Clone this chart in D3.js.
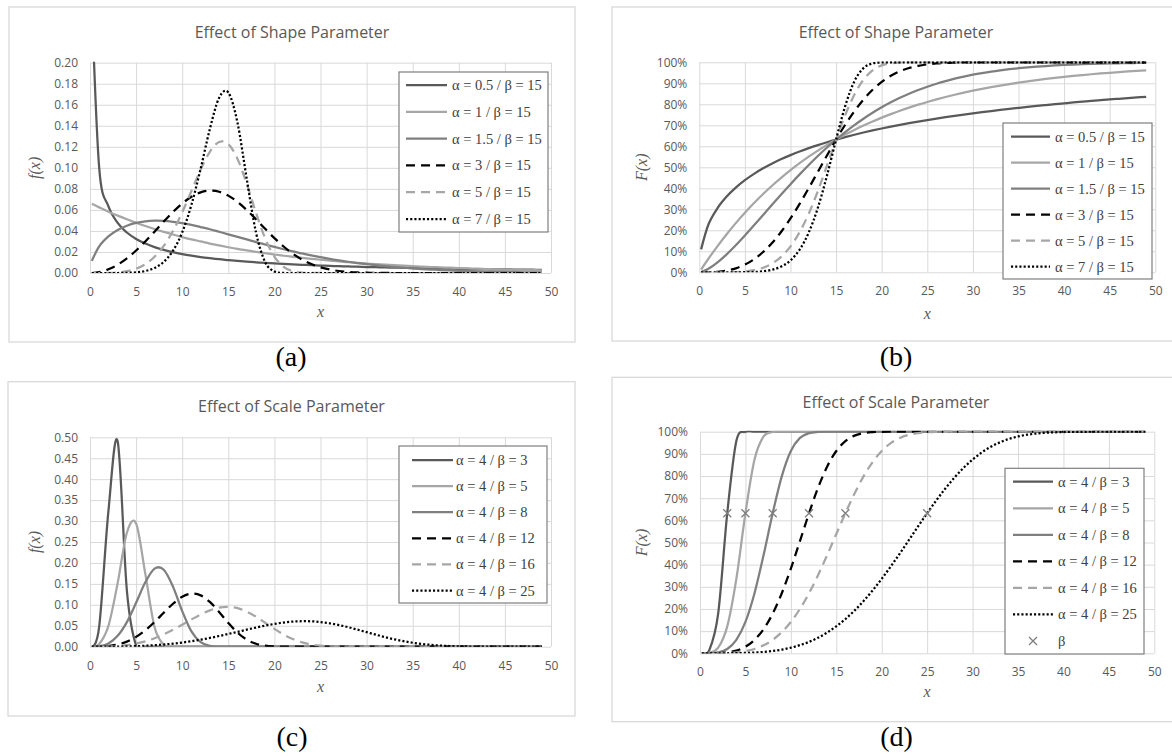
<!DOCTYPE html>
<html><head><meta charset="utf-8">
<script src="https://cdn.jsdelivr.net/npm/d3@7"></script>
<style>body{margin:0;background:#fff} svg{display:block}</style>
</head><body><svg id="c" width="1172" height="756"></svg>
<script>
// ---------------- DATA ----------------
const xValues = [0.2,1,2,3,4,5,6,7,8,9,10,11,12,13,14,15,16,17,18,19,20,21,22,23,24,25,26,27,28,29,30,31,32,33,34,35,36,37,38,39,40,41,42,43,44,45,46,47,48,49];
const xTicks = [0,5,10,15,20,25,30,35,40,45,50];
const shapeLabels = ["α = 0.5 / β = 15","α = 1 / β = 15","α = 1.5 / β = 15","α = 3 / β = 15","α = 5 / β = 15","α = 7 / β = 15"];
const scaleLabels = ["α = 4 / β = 3","α = 4 / β = 5","α = 4 / β = 8","α = 4 / β = 12","α = 4 / β = 16","α = 4 / β = 25"];
const betaValues = [3,5,8,12,16,25];
const betaLevel = 0.632;
const pdfTicks = [0,0.02,0.04,0.06,0.08,0.10,0.12,0.14,0.16,0.18,0.20];
const pdfScaleTicks = [0,0.05,0.10,0.15,0.20,0.25,0.30,0.35,0.40,0.45,0.50];
const cdfTicks = [0,0.1,0.2,0.3,0.4,0.5,0.6,0.7,0.8,0.9,1.0];

// (a) pdf, beta = 15
const pdfA05 = [0.2572,0.0997,0.0634,0.0477,0.0385,0.0324,0.0280,0.0246,0.0220,0.0198,
 0.0180,0.0165,0.0152,0.0141,0.0131,0.0123,0.0115,0.0108,0.0102,0.0096,
 0.0091,0.0086,0.0082,0.0078,0.0074,0.0071,0.0068,0.0065,0.0062,0.0060,
 0.0057,0.0055,0.0053,0.0051,0.0049,0.0047,0.0046,0.0044,0.0043,0.0041,
 0.0040,0.0039,0.0037,0.0036,0.0035,0.0034,0.0033,0.0032,0.0031,0.0030];
const pdfA1 = [0.0658,0.0624,0.0583,0.0546,0.0511,0.0478,0.0447,0.0418,0.0391,0.0366,
 0.0342,0.0320,0.0300,0.0280,0.0262,0.0245,0.0229,0.0215,0.0201,0.0188,
 0.0176,0.0164,0.0154,0.0144,0.0135,0.0126,0.0118,0.0110,0.0103,0.0096,
 0.0090,0.0084,0.0079,0.0074,0.0069,0.0065,0.0060,0.0057,0.0053,0.0050,
 0.0046,0.0043,0.0041,0.0038,0.0035,0.0033,0.0031,0.0029,0.0027,0.0025];
const pdfA15 = [0.0115,0.0254,0.0348,0.0409,0.0450,0.0476,0.0491,0.0497,0.0495,0.0487,
 0.0474,0.0457,0.0437,0.0416,0.0392,0.0368,0.0343,0.0319,0.0294,0.0271,
 0.0248,0.0226,0.0205,0.0186,0.0167,0.0150,0.0134,0.0120,0.0107,0.0095,
 0.0084,0.0074,0.0065,0.0057,0.0050,0.0043,0.0038,0.0033,0.0028,0.0024,
 0.0021,0.0018,0.0015,0.0013,0.0011,0.0010,0.0008,0.0007,0.0006,0.0005];
const pdfA3 = [0,0.0009,0.0035,0.0079,0.0140,0.0214,0.0300,0.0393,0.0489,0.0580,
 0.0661,0.0725,0.0767,0.0783,0.0773,0.0736,0.0676,0.0599,0.0512,0.0420,
 0.0332,0.0252,0.0183,0.0128,0.0085,0.0054,0.0033,0.0019,0.0010,0.0005,
 0.0003,0.0001,0.0001,0,0,0,0,0,0,0,
 0,0,0,0,0,0,0,0,0,0];
const pdfA5 = [0,0,0.0001,0.0005,0.0017,0.0041,0.0084,0.0155,0.0258,0.0400,
 0.0577,0.0780,0.0984,0.1153,0.1246,0.1226,0.1085,0.0848,0.0574,0.0329,
 0.0156,0.0059,0.0017,0.0004,0.0001,0,0,0,0,0,
 0,0,0,0,0,0,0,0,0,0,
 0,0,0,0,0,0,0,0,0,0];
const pdfA7 = [0,0,0,0,0.0002,0.0006,0.0019,0.0048,0.0106,0.0212,
 0.0386,0.0648,0.0992,0.1370,0.1665,0.1717,0.1428,0.0895,0.0387,0.0103,
 0.0015,0.0001,0,0,0,0,0,0,0,0,
 0,0,0,0,0,0,0,0,0,0,
 0,0,0,0,0,0,0,0,0,0];

// (b) cdf, beta = 15
const cdfA05 = [0.1091,0.2276,0.3059,0.3606,0.4033,0.4386,0.4687,0.4950,0.5182,0.5391,
 0.5580,0.5753,0.5912,0.6058,0.6194,0.6321,0.6440,0.6551,0.6656,0.6755,
 0.6848,0.6937,0.7021,0.7101,0.7177,0.7250,0.7319,0.7386,0.7449,0.7510,
 0.7569,0.7625,0.7679,0.7731,0.7781,0.7829,0.7876,0.7921,0.7964,0.8006,
 0.8046,0.8086,0.8124,0.8161,0.8196,0.8231,0.8264,0.8297,0.8328,0.8359];
const cdfA1 = [0.0132,0.0645,0.1248,0.1813,0.2341,0.2835,0.3297,0.3729,0.4134,0.4512,
 0.4866,0.5197,0.5507,0.5796,0.6068,0.6321,0.6558,0.6780,0.6988,0.7182,
 0.7364,0.7534,0.7693,0.7842,0.7981,0.8111,0.8233,0.8347,0.8454,0.8553,
 0.8647,0.8734,0.8816,0.8892,0.8964,0.9030,0.9093,0.9151,0.9206,0.9257,
 0.9305,0.9350,0.9392,0.9431,0.9468,0.9502,0.9534,0.9564,0.9592,0.9619];
const cdfA15 = [0.0015,0.0171,0.0475,0.0856,0.1287,0.1751,0.2235,0.2730,0.3226,0.3717,
 0.4198,0.4663,0.5111,0.5537,0.5941,0.6321,0.6677,0.7008,0.7314,0.7596,
 0.7855,0.8092,0.8307,0.8502,0.8679,0.8837,0.8979,0.9106,0.9220,0.9320,
 0.9409,0.9487,0.9557,0.9617,0.9670,0.9717,0.9757,0.9792,0.9823,0.9849,
 0.9872,0.9891,0.9908,0.9922,0.9934,0.9945,0.9953,0.9961,0.9967,0.9973];
const cdfA3 = [0,0.0003,0.0024,0.0080,0.0188,0.0364,0.0620,0.0966,0.1408,0.1943,
 0.2565,0.3259,0.4007,0.4785,0.5565,0.6321,0.7029,0.7668,0.8224,0.8690,
 0.9066,0.9357,0.9574,0.9728,0.9834,0.9902,0.9945,0.9971,0.9985,0.9993,
 0.9997,0.9999,1,1,1,1,1,1,1,1,
 1,1,1,1,1,1,1,1,1,1];
const cdfA5 = [0,0,0,0.0003,0.0013,0.0041,0.0102,0.0219,0.0422,0.0748,
 0.1234,0.1911,0.2794,0.3867,0.5075,0.6321,0.7486,0.8458,0.9170,0.9616,
 0.9852,0.9954,0.9989,0.9998,1,1,1,1,1,1,
 1,1,1,1,1,1,1,1,1,1,
 1,1,1,1,1,1,1,1,1,1];
const cdfA7 = [0,0,0,0,0,0.0005,0.0016,0.0048,0.0122,0.0276,
 0.0568,0.1078,0.1892,0.3074,0.4604,0.6321,0.7922,0.9095,0.9722,0.9947,
 0.9994,1,1,1,1,1,1,1,1,1,
 1,1,1,1,1,1,1,1,1,1,
 1,1,1,1,1,1,1,1,1,1];

// (c) pdf, alpha = 4
const pdfB3 = [0.0004,0.0488,0.3242,0.4905,0.1340,0.0028,0,0,0,0,
 0,0,0,0,0,0,0,0,0,0, 0,0,0,0,0,0,0,0,0,0, 0,0,0,0,0,0,0,0,0,0, 0,0,0,0,0,0,0,0,0,0];
const pdfB5 = [0,0.0064,0.0499,0.1518,0.2720,0.2943,0.1738,0.0471,0.0047,0.0001,
 0,0,0,0,0,0,0,0,0,0, 0,0,0,0,0,0,0,0,0,0, 0,0,0,0,0,0,0,0,0,0, 0,0,0,0,0,0,0,0,0,0];
const pdfB8 = [0,0.0010,0.0078,0.0259,0.0587,0.1048,0.1537,0.1864,0.1839,0.1435,
 0.0850,0.0365,0.0107,0.0020,0.0002,0,0,0,0,0,
 0,0,0,0,0,0,0,0,0,0, 0,0,0,0,0,0,0,0,0,0, 0,0,0,0,0,0,0,0,0,0];
const pdfB12 = [0,0.0002,0.0015,0.0052,0.0122,0.0234,0.0391,0.0589,0.0811,0.1025,
 0.1191,0.1267,0.1226,0.1069,0.0830,0.0567,0.0335,0.0169,0.0071,0.0025,
 0.0007,0.0002,0,0,0,0,0,0,0,0, 0,0,0,0,0,0,0,0,0,0, 0,0,0,0,0,0,0,0,0,0];
const pdfB16 = [0,0.0001,0.0005,0.0017,0.0039,0.0076,0.0129,0.0202,0.0294,0.0403,
 0.0524,0.0650,0.0769,0.0867,0.0932,0.0951,0.0920,0.0838,0.0717,0.0573,
 0.0425,0.0291,0.0182,0.0104,0.0053,0.0025,0.0010,0.0004,0.0001,0,
 0,0,0,0,0,0,0,0,0,0, 0,0,0,0,0,0,0,0,0,0];
const pdfB25 = [0,0,0.0001,0.0003,0.0007,0.0013,0.0022,0.0035,0.0052,0.0073,
 0.0100,0.0131,0.0168,0.0209,0.0255,0.0304,0.0355,0.0406,0.0457,0.0503,
 0.0544,0.0576,0.0599,0.0609,0.0606,0.0589,0.0559,0.0517,0.0466,0.0408,
 0.0348,0.0287,0.0229,0.0177,0.0132,0.0094,0.0065,0.0043,0.0027,0.0016,
 0.0009,0.0005,0.0003,0.0001,0.0001,0,0,0,0,0];

// (d) cdf, alpha = 4
const cdfB3 = [0,0.0123,0.1792,0.6321,0.9576,0.9996,1,1,1,1,
 1,1,1,1,1,1,1,1,1,1, 1,1,1,1,1,1,1,1,1,1, 1,1,1,1,1,1,1,1,1,1, 1,1,1,1,1,1,1,1,1,1];
const cdfB5 = [0,0.0016,0.0253,0.1216,0.3361,0.6321,0.8743,0.9785,0.9986,1,
 1,1,1,1,1,1,1,1,1,1, 1,1,1,1,1,1,1,1,1,1, 1,1,1,1,1,1,1,1,1,1, 1,1,1,1,1,1,1,1,1,1];
const cdfB8 = [0,0.0002,0.0039,0.0196,0.0606,0.1415,0.2712,0.4436,0.6321,0.7985,
 0.9130,0.9720,0.9937,0.9991,0.9999,1,1,1,1,1,
 1,1,1,1,1,1,1,1,1,1, 1,1,1,1,1,1,1,1,1,1, 1,1,1,1,1,1,1,1,1,1];
const cdfB12 = [0,0,0.0008,0.0039,0.0123,0.0297,0.0606,0.1093,0.1792,0.2712,
 0.3826,0.5064,0.6321,0.7478,0.8432,0.9130,0.9576,0.9822,0.9937,0.9981,
 0.9996,0.9999,1,1,1,1,1,1,1,1, 1,1,1,1,1,1,1,1,1,1, 1,1,1,1,1,1,1,1,1,1];
const cdfB16 = [0,0,0.0002,0.0012,0.0039,0.0095,0.0196,0.0360,0.0606,0.0953,
 0.1415,0.2002,0.2712,0.3533,0.4436,0.5381,0.6321,0.7204,0.7985,0.8631,
 0.9130,0.9486,0.9720,0.9860,0.9937,0.9974,0.9991,0.9997,0.9999,1,
 1,1,1,1,1,1,1,1,1,1, 1,1,1,1,1,1,1,1,1,1];
const cdfB25 = [0,0,0,0.0002,0.0007,0.0016,0.0033,0.0061,0.0104,0.0167,
 0.0253,0.0368,0.0517,0.0705,0.0937,0.1216,0.1545,0.1925,0.2357,0.2837,
 0.3361,0.3922,0.4510,0.5115,0.5723,0.6321,0.6896,0.7435,0.7927,0.8365,
 0.8743,0.9060,0.9317,0.9520,0.9673,0.9785,0.9864,0.9917,0.9952,0.9973,
 0.9986,0.9993,0.9997,0.9998,0.9999,1,1,1,1,1];

// ---------------- STYLE / LAYOUT ----------------
const seriesStyles = [
  {color:'#595959', dash:null, width:2.25},
  {color:'#a6a6a6', dash:null, width:2.25},
  {color:'#7f7f7f', dash:null, width:2.25},
  {color:'#000000', dash:'9,6', width:2.25},
  {color:'#a6a6a6', dash:'9,6', width:2.25},
  {color:'#000000', dash:'2.1,2.1', width:2.25}
];

const panels = [
  {box:[9,7,575,342], plot:[90,62.7,551,273], yMax:0.2, yTicks:pdfTicks, fmt:d3.format('.2f'),
   title:'Effect of Shape Parameter', titleY:38, yLabel:'f(x)', yLabelX:35, xLabelY:317,
   series:[pdfA05,pdfA1,pdfA15,pdfA3,pdfA5,pdfA7], labels:shapeLabels,
   legend:{x:399,y:72,w:149,h:160,row0:85,dy:26.8,l0:406,l1:447,tx:452},
   caption:'(a)', capX:291, capY:366, markers:false},
  {box:[612,7,1180,341], plot:[699.3,62.3,1155.3,272.3], yMax:1, yTicks:cdfTicks, fmt:d3.format('.0%'),
   title:'Effect of Shape Parameter', titleY:38, yLabel:'F(x)', yLabelX:641.7, xLabelY:319,
   series:[cdfA05,cdfA1,cdfA15,cdfA3,cdfA5,cdfA7], labels:shapeLabels,
   legend:{x:1003,y:123,w:149,h:156,row0:136.7,dy:26,l0:1011,l1:1050,tx:1055},
   caption:'(b)', capX:896, capY:366, markers:false},
  {box:[8,381.7,575,716], plot:[90,437.3,551,646.7], yMax:0.5, yTicks:pdfScaleTicks, fmt:d3.format('.2f'),
   title:'Effect of Scale Parameter', titleY:412, yLabel:'f(x)', yLabelX:35, xLabelY:692,
   series:[pdfB3,pdfB5,pdfB8,pdfB12,pdfB16,pdfB25], labels:scaleLabels,
   legend:{x:399,y:446,w:148,h:157,row0:460,dy:26.1,l0:412,l1:453,tx:456},
   caption:'(c)', capX:292, capY:746, markers:false},
  {box:[612,377.3,1180,721.7], plot:[700,431.7,1154.3,653.3], yMax:1, yTicks:cdfTicks, fmt:d3.format('.0%'),
   title:'Effect of Scale Parameter', titleY:408, yLabel:'F(x)', yLabelX:641.7, xLabelY:697,
   series:[cdfB3,cdfB5,cdfB8,cdfB12,cdfB16,cdfB25], labels:scaleLabels,
   legend:{x:1005,y:468.3,w:139,h:185.7,row0:481.7,dy:26.55,l0:1013,l1:1053,tx:1058},
   caption:'(d)', capX:896.5, capY:746, markers:true}
];

const SANS = "'Open Sans', 'Noto Sans', sans-serif";
const SERIF = "'Liberation Serif', 'DejaVu Serif', serif";
const svg = d3.select('#c');
const defs = svg.append('defs');

function drawCross(g, cx, cy, r) {
  g.append('path').attr('d', `M${cx-r},${cy-r}L${cx+r},${cy+r}M${cx-r},${cy+r}L${cx+r},${cy-r}`)
    .attr('stroke', '#7f7f7f').attr('stroke-width', 1.3).attr('fill', 'none');
}

panels.forEach((p, pi) => {
  const g = svg.append('g');
  const [bx0, by0, bx1, by1] = p.box;
  g.append('rect').attr('x', bx0).attr('y', by0).attr('width', bx1 - bx0).attr('height', by1 - by0)
    .attr('fill', '#fff').attr('stroke', '#d9d9d9').attr('stroke-width', 1.3);

  const [px0, py0, px1, py1] = p.plot;
  const x = d3.scaleLinear().domain([0, 50]).range([px0, px1]);
  const y = d3.scaleLinear().domain([0, p.yMax]).range([py1, py0]);

  // title
  g.append('text').attr('x', (bx0 + bx1) / 2).attr('y', p.titleY).attr('text-anchor', 'middle')
    .attr('font-family', SANS).attr('font-size', 16).attr('fill', '#595959').text(p.title);

  // axes with gridlines
  const yAxis = g.append('g').attr('transform', `translate(${px0},0)`)
    .call(d3.axisLeft(y).tickValues(p.yTicks).tickFormat(p.fmt).tickSize(-(px1 - px0)).tickPadding(12));
  const xAxis = g.append('g').attr('transform', `translate(0,${py1})`)
    .call(d3.axisBottom(x).tickValues(xTicks).tickSize(-(py1 - py0)).tickPadding(14.5));
  [yAxis, xAxis].forEach(a => {
    a.select('.domain').remove();
    a.selectAll('line').attr('stroke', '#d9d9d9').attr('stroke-width', 1);
    a.selectAll('text').attr('font-family', SANS).attr('font-size', 12).attr('fill', '#595959');
  });

  // clip
  const clipId = 'clip' + pi;
  defs.append('clipPath').attr('id', clipId).append('rect')
    .attr('x', px0).attr('y', py0 - 1).attr('width', px1 - px0).attr('height', py1 - py0 + 1);

  const line = d3.line().x((d, i) => x(xValues[i])).y(d => y(d)).curve(d3.curveCardinal.tension(0));
  const lg = g.append('g').attr('clip-path', `url(#${clipId})`);
  p.series.forEach((s, si) => {
    const st = seriesStyles[si];
    lg.append('path').attr('d', line(s)).attr('fill', 'none').attr('stroke', st.color)
      .attr('stroke-width', st.width).attr('stroke-dasharray', st.dash).attr('stroke-linejoin', 'round');
  });

  if (p.markers) {
    betaValues.forEach(b => drawCross(g, x(b), y(betaLevel), 4));
  }

  // axis labels
  g.append('text').attr('transform', `translate(${p.yLabelX + 5},${(py0 + py1) / 2}) rotate(-90)`)
    .attr('text-anchor', 'middle').attr('font-family', SERIF).attr('font-style', 'italic')
    .attr('font-size', 16).attr('fill', '#595959').text(p.yLabel);
  g.append('text').attr('x', (px0 + px1) / 2).attr('y', p.xLabelY).attr('text-anchor', 'middle')
    .attr('font-family', SERIF).attr('font-style', 'italic').attr('font-size', 16)
    .attr('fill', '#595959').text('x');

  // legend
  const L = p.legend;
  const leg = g.append('g');
  leg.append('rect').attr('x', L.x).attr('y', L.y).attr('width', L.w).attr('height', L.h)
    .attr('fill', '#fff').attr('stroke', '#7f7f7f').attr('stroke-width', 1.2);
  p.labels.forEach((lab, li) => {
    const st = seriesStyles[li];
    const ry = L.row0 + li * L.dy;
    leg.append('line').attr('x1', L.l0).attr('x2', L.l1).attr('y1', ry).attr('y2', ry)
      .attr('stroke', st.color).attr('stroke-width', st.width).attr('stroke-dasharray', st.dash);
    leg.append('text').attr('x', L.tx).attr('y', ry + 5).attr('font-family', SERIF)
      .attr('font-size', 14.5).attr('fill', '#404040').text(lab);
  });
  if (p.markers) {
    const ry = L.row0 + 6 * L.dy;
    drawCross(leg, (L.l0 + L.l1) / 2, ry, 4);
    leg.append('text').attr('x', L.tx).attr('y', ry + 5).attr('font-family', SERIF)
      .attr('font-size', 14.5).attr('fill', '#404040').text('β');
  }

  // caption
  svg.append('text').attr('x', p.capX).attr('y', p.capY).attr('text-anchor', 'middle')
    .attr('font-family', SERIF).attr('font-size', 28).attr('fill', '#000').text(p.caption);
});
</script>
</body></html>
